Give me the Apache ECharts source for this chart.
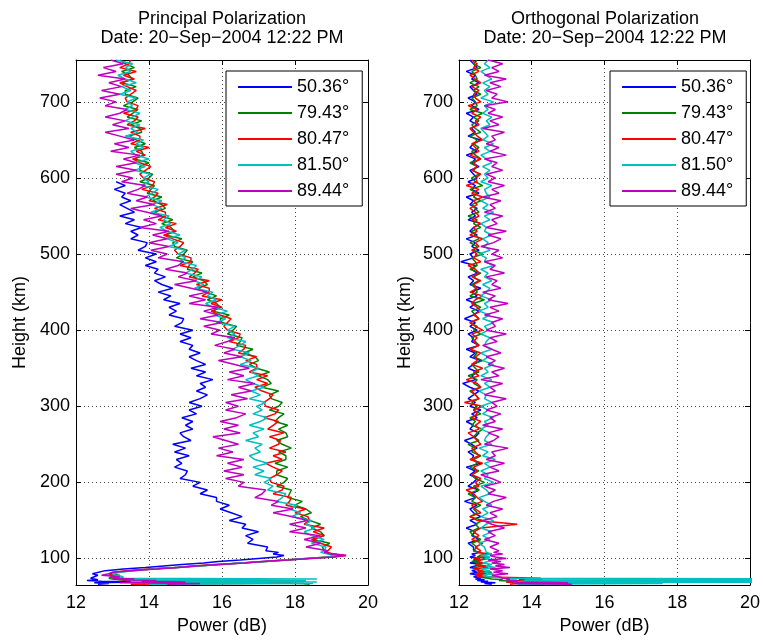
<!DOCTYPE html>
<html><head><meta charset="utf-8">
<script src="https://cdn.jsdelivr.net/npm/echarts@6/dist/echarts.min.js"></script>
<style>html,body{margin:0;padding:0;background:#fff}#c{width:763px;height:640px}</style>
</head><body><div id="c"></div>
<script>
// Height samples (km)
const heights = [66,67,68,69,70,71,72,73,74,
76,78,80,82,84,86,88,90,92,94,96,98,100,102,104,106,108,110,
115,120,125,130,135,140,145,150,155,160,165,170,175,180,185,190,195,200,205,210,
215,220,225,230,235,240,245,250,255,260,265,270,275,280,285,290,295,300,305,310,
315,320,325,330,335,340,345,350,355,360,365,370,375,380,385,390,395,400,405,410,
415,420,425,430,435,440,445,450,455,460,465,470,475,480,485,490,495,500,505,510,
515,520,525,530,535,540,545,550,555,560,565,570,575,580,585,590,595,600,605,610,
615,620,625,630,635,640,645,650,655,660,665,670,675,680,685,690,695,700,705,710,
715,720,725,730,735,740,745,750,755];

const seriesNames = ['50.36\u00b0','79.43\u00b0','80.47\u00b0','81.50\u00b0','89.44\u00b0'];
const xTicks = [12,14,16,18,20];
const yTicks = [100,200,300,400,500,600,700];

// Principal polarization (dB)
const principal5036 = [12.6,12.9,12.5,13.8,12.7,12.3,12.6,12.5,12.4,
12.4,12.6,12.45,12.5,12.8,13.3,13.9,14.4,14.9,15.5,15.9,16.5,17.0,17.5,17.7,17.4,17.55,17.2,
17.25,16.7,16.85,16.65,17.0,16.55,16.65,16.2,16.55,16.25,
15.95,16.2,15.85,15.85,15.4,15.6,15.2,15.4,14.85,15.0,
15.05,14.7,14.9,14.75,15.1,14.7,15.0,14.65,15.15,14.95,
14.85,15.2,15.0,15.2,14.9,15.3,15.1,15.45,15.1,15.4,
15.6,15.3,15.55,15.4,15.75,15.3,15.55,15.15,15.55,15.3,
15.1,15.4,15.1,15.2,14.85,15.15,14.85,15.2,14.7,14.9,
14.95,14.55,14.75,14.55,14.85,14.4,14.6,14.25,14.65,14.35,
14.15,14.45,14.15,14.25,13.9,14.2,13.9,14.2,13.7,13.9,
13.95,13.5,13.7,13.5,13.8,13.35,13.6,13.2,13.6,13.4,
13.2,13.5,13.25,13.35,13.05,13.35,13.1,
null,null,null,null,null,null,null,null,null,null,null,null,null,null,null,null,
null,null,null,null,null,null,null,null,null,null,null,null,null,null,null,null];

const principal7943 = [18.4,18.2,17.0,14.5,13.6,13.4,13.2,13.0,12.9,
13.0,13.2,12.9,13.1,13.5,14.1,14.8,15.3,16.0,16.5,17.2,17.8,18.4,19.0,19.3,19.0,18.9,18.8,
18.75,18.95,18.5,18.8,18.7,18.45,18.7,18.4,18.15,18.45,
18.3,18.0,18.2,17.8,17.85,17.9,17.5,17.7,17.8,17.5,
17.5,17.8,17.45,17.75,17.75,17.55,17.9,17.65,17.5,17.8,
17.75,17.55,17.8,17.45,17.55,17.7,17.3,17.55,17.65,17.35,
17.3,17.55,17.1,17.35,17.25,17.0,17.3,16.95,16.75,17.0,
16.9,16.6,16.85,16.4,16.5,16.55,16.15,16.3,16.4,16.0,
15.95,16.2,15.75,15.95,15.85,15.6,15.85,15.55,15.35,15.6,
15.5,15.2,15.45,15.05,15.1,15.2,14.75,14.95,15.05,14.7,
14.65,14.9,14.45,14.7,14.6,14.35,14.65,14.35,14.15,14.45,
14.35,14.1,14.35,13.95,14.05,14.15,13.75,14.0,14.1,13.75,
13.75,14.0,13.6,13.85,13.8,13.6,13.9,13.65,13.45,13.8,
13.75,13.5,13.8,13.4,13.55,13.7,13.3,13.55,13.7,13.35,
13.35,13.65,13.25,13.55,13.45,13.25,13.6,13.35,13.2];

const principal8047 = [13.5,16.5,17.9,17.8,16.0,13.6,13.3,13.1,13.0,
13.1,12.9,13.1,13.0,13.4,14.0,14.7,15.2,15.8,16.6,17.1,17.7,18.3,18.9,19.4,19.1,18.8,18.9,
19.0,18.7,18.45,18.8,18.5,18.8,18.25,18.4,18.35,18.0,
18.3,17.75,17.85,17.9,17.4,17.65,17.7,17.35,17.3,17.5,
17.65,17.4,17.2,17.65,17.4,17.75,17.3,17.55,17.6,17.3,
17.7,17.25,17.4,17.55,17.15,17.45,17.55,17.2,17.15,17.3,
17.4,17.1,16.9,17.25,16.95,17.25,16.75,16.95,16.95,16.65,
16.95,16.45,16.6,16.65,16.2,16.45,16.5,16.15,16.05,16.15,
16.25,15.95,15.7,16.0,15.7,16.0,15.45,15.65,15.65,15.3,
15.65,15.1,15.25,15.35,14.85,15.15,15.15,14.8,14.7,14.85,
14.95,14.65,14.4,14.75,14.45,14.75,14.25,14.45,14.45,14.15,
14.5,14.0,14.15,14.25,13.8,14.1,14.15,13.85,13.75,13.9,
14.05,13.75,13.55,13.9,13.65,14.0,13.5,13.75,13.75,13.5,
13.9,13.4,13.6,13.7,13.3,13.65,13.7,13.4,13.35,13.5,
13.65,13.4,13.2,13.6,13.3,13.65,13.2,13.45,13.5];

const principal8150 = [14.0,18.5,13.6,18.6,13.5,18.3,13.4,18.6,13.2,
13.3,13.1,13.0,13.2,13.6,14.1,14.7,15.4,15.9,16.5,17.2,17.7,18.3,18.9,19.1,18.9,18.7,18.8,
18.85,18.45,18.8,18.45,18.25,18.55,18.3,18.45,17.9,18.15,
17.85,18.05,17.5,17.65,17.75,17.25,17.4,17.15,17.35,16.9,
17.15,16.85,17.25,16.9,16.75,17.05,16.9,17.1,16.65,17.0,
16.85,17.15,16.75,17.05,17.25,16.85,17.1,16.95,17.2,16.75,
17.05,16.8,17.15,16.85,16.65,17.0,16.8,17.0,16.5,16.8,
16.5,16.75,16.3,16.5,16.65,16.15,16.35,16.15,16.35,15.85,
16.1,15.8,16.15,15.75,15.55,15.85,15.6,15.75,15.25,15.5,
15.25,15.45,15.0,15.2,15.3,14.85,15.0,14.8,15.0,14.55,
14.8,14.5,14.85,14.5,14.3,14.6,14.4,14.55,14.05,14.35,
14.1,14.35,13.9,14.1,14.25,13.8,14.0,13.85,14.05,13.6,
13.9,13.6,14.0,13.65,13.5,13.85,13.65,13.85,13.35,13.7,
13.5,13.75,13.35,13.55,13.75,13.35,13.55,13.4,13.65,13.2,
13.5,13.25,13.65,13.35,13.15,13.5,13.35,13.55,13.1];

const principal8944 = [14.5,15.4,13.2,15.0,13.8,14.2,13.3,13.6,13.0,
13.2,12.7,12.9,13.0,13.5,14.2,14.8,15.3,15.9,16.6,17.1,17.8,18.4,19.1,19.4,19.0,18.8,18.9,
18.3,18.7,18.25,18.7,17.85,18.3,17.85,18.35,17.9,17.4,
17.95,17.35,17.55,16.9,17.1,17.2,16.45,16.6,16.1,16.6,
16.05,16.55,16.15,16.6,15.85,16.3,15.9,16.45,16.1,15.75,
16.5,16.05,16.45,15.95,16.4,16.65,16.1,16.45,16.1,16.7,
16.25,16.8,16.45,16.9,16.15,16.6,16.2,16.75,16.35,15.9,
16.55,16.05,16.35,15.8,16.15,16.35,15.7,15.95,15.5,16.0,
15.4,15.9,15.5,15.9,15.1,15.55,15.1,15.6,15.15,14.7,
15.3,14.8,15.05,14.45,14.8,14.95,14.25,14.5,14.05,14.55,
14.0,14.5,14.1,14.55,13.75,14.2,13.85,14.35,13.95,13.5,
14.15,13.65,13.95,13.4,13.7,13.9,13.25,13.55,13.1,13.65,
13.1,13.65,13.3,13.75,12.95,13.45,13.05,13.6,13.2,12.8,
13.45,13.0,13.35,12.8,13.2,13.4,12.8,13.1,12.65,13.2,
12.7,13.25,12.9,13.35,12.6,13.1,12.75,13.3,12.95];

// Orthogonal polarization (dB)
const orthogonal5036 = [12.9,12.7,13.0,12.6,12.8,12.5,12.7,12.45,12.6,
12.4,12.6,12.3,12.5,12.35,12.55,12.3,12.45,12.6,12.3,12.5,12.4,12.55,12.3,12.45,12.35,12.6,12.4,
12.4,12.25,12.55,12.35,12.45,12.2,12.5,12.3,12.6,12.4,
12.3,12.5,12.15,12.45,12.35,12.55,12.25,12.4,12.5,12.3,
12.45,12.2,12.6,12.35,12.4,12.25,12.5,12.35,12.15,12.45,
12.55,12.3,12.4,12.2,12.5,12.35,12.6,12.3,12.45,12.25,
12.4,12.55,12.3,12.1,12.45,12.35,12.5,12.25,12.4,12.6,
12.3,12.45,12.2,12.55,12.35,12.4,12.25,12.5,12.3,12.45,
12.15,12.4,12.55,12.3,12.45,12.2,12.5,12.35,12.6,12.3,
12.4,12.25,12.5,12.35,12.45,12.05,12.4,12.3,12.55,12.35,
12.45,12.2,12.5,12.3,12.4,12.6,12.25,12.45,12.35,12.5,
12.3,12.4,12.2,12.55,12.35,12.45,12.25,12.5,12.4,12.3,
12.55,12.35,12.45,12.2,12.5,12.3,12.4,12.6,12.25,12.45,
12.35,12.5,12.3,12.4,12.2,12.55,12.35,12.45,12.25,12.5,
12.4,12.3,12.55,12.35,12.45,12.2,12.5,12.4,12.3];

const orthogonal7943 = [14.3,13.6,14.2,13.3,13.5,13.1,13.2,12.9,12.8,
12.5,12.7,12.45,12.9,12.55,12.6,12.4,12.75,12.5,12.65,12.35,12.6,12.8,12.5,12.45,12.7,12.55,12.4,
12.5,12.35,12.6,12.4,12.3,12.55,12.45,12.65,12.3,12.5,
12.4,12.6,12.35,12.45,12.25,12.55,12.4,12.7,12.45,12.35,
12.55,12.3,12.5,12.4,12.6,12.35,12.45,12.25,12.55,12.4,
12.5,12.65,12.35,12.45,12.3,12.6,12.4,12.5,12.35,12.55,
12.45,12.3,12.6,12.4,12.5,12.25,12.55,12.45,12.35,12.65,
12.4,12.5,12.3,12.55,12.45,12.35,12.6,12.4,12.5,12.3,
12.55,12.45,12.35,12.6,12.4,12.7,12.3,12.5,12.45,12.35,
12.55,12.4,12.6,12.3,12.5,12.45,12.35,12.65,12.4,12.5,
12.3,12.55,12.45,12.35,12.6,12.4,12.5,12.25,12.55,12.45,
12.35,12.6,12.4,12.5,12.3,12.65,12.45,12.35,12.55,12.4,
12.5,12.3,12.6,12.45,12.35,12.55,12.4,12.5,12.3,12.6,
12.45,12.35,12.55,12.4,12.65,12.3,12.5,12.45,12.35,12.6,
12.4,12.55,12.3,12.5,12.45,12.35,12.6,12.4,12.5];

const orthogonal8047 = [13.4,13.6,13.5,13.3,13.6,13.4,14.3,13.65,14.25,
12.6,12.45,12.75,12.5,12.65,12.4,12.8,12.55,12.45,12.7,12.5,12.6,12.4,12.75,12.55,12.9,12.5,12.6,
12.45,12.65,12.35,12.55,12.4,12.6,13.6,12.5,12.3,12.6,
12.45,12.35,12.65,12.5,12.4,12.2,12.55,12.45,12.6,12.35,
12.5,12.4,12.65,12.3,12.55,12.45,12.35,12.6,12.5,12.4,
12.25,12.55,12.45,12.6,12.35,12.5,12.4,12.65,12.15,12.55,
12.45,12.35,12.6,12.5,12.2,12.55,12.4,12.65,12.35,12.5,
12.45,12.6,12.3,12.55,12.4,12.5,12.35,12.65,12.45,12.3,
12.55,12.4,12.6,12.5,12.35,12.45,12.65,12.3,12.5,12.4,
12.6,12.35,12.55,12.45,12.25,12.6,12.4,12.5,12.35,12.55,
12.45,12.65,12.3,12.5,12.4,12.6,12.35,12.55,12.45,12.3,
12.5,12.4,12.65,12.35,12.55,12.2,12.5,12.45,12.6,12.35,
12.5,12.4,12.6,12.3,12.55,12.45,12.35,12.65,12.5,12.4,
12.3,12.55,12.45,12.6,12.35,12.5,12.25,12.6,12.45,12.4,
12.55,12.35,12.6,12.45,12.3,12.55,12.4,12.5,12.35];

const orthogonal8150 = [13.6,17.6,13.5,22,13.7,22,13.8,22,13.3,
12.8,12.65,12.95,12.7,12.85,12.6,13.0,12.75,12.9,12.65,12.8,13.05,12.7,12.85,12.6,12.9,12.75,12.8,
12.7,12.55,12.85,12.65,12.9,12.6,12.75,12.95,12.6,12.8,
12.65,12.9,12.7,12.55,12.85,12.75,12.6,12.95,12.7,12.8,
12.6,12.85,12.7,13.0,12.65,12.8,12.55,12.9,12.7,12.75,
12.85,12.6,12.8,12.7,12.95,12.65,12.8,12.6,12.9,12.7,
12.75,12.55,12.85,12.7,12.9,12.6,12.8,12.7,12.95,12.65,
12.8,12.6,12.9,12.7,12.75,12.85,12.6,12.8,12.7,12.95,
12.65,12.85,12.55,12.8,12.7,12.9,12.6,12.75,12.85,12.65,
12.9,12.7,12.8,12.6,12.95,12.7,12.75,12.55,12.85,12.7,
12.8,12.65,12.9,12.7,12.75,12.6,12.85,12.7,12.95,12.65,
12.8,12.6,12.85,12.75,12.7,12.9,12.6,12.8,12.7,12.85,
12.65,12.9,12.75,12.6,12.85,12.7,12.95,12.65,12.8,12.7,
12.6,12.85,12.75,12.9,12.65,12.8,12.7,12.95,12.6,12.8,
12.7,12.85,12.65,12.9,12.75,12.6,12.85,12.7,12.8];

const orthogonal8944 = [15.1,13.5,15.0,13.6,13.4,13.6,13.3,13.4,13.2,
13.1,12.9,13.35,12.95,13.2,12.85,13.4,13.0,13.25,12.9,13.15,12.8,13.3,13.0,12.85,13.2,12.95,13.1,
12.85,13.1,12.7,13.0,12.8,13.25,12.9,12.65,13.05,12.85,
13.2,12.75,12.95,13.3,12.8,13.0,12.7,13.15,12.9,12.6,
13.1,12.85,13.25,12.75,13.0,12.9,13.35,12.7,12.95,13.1,
12.8,13.2,12.65,13.0,12.85,13.15,12.75,13.05,12.9,13.3,
12.7,13.0,12.85,13.2,12.6,13.1,12.9,13.25,12.8,13.0,
12.75,13.15,12.9,12.65,13.05,12.85,13.3,12.75,13.0,12.9,
13.2,12.7,13.1,12.85,13.35,12.8,13.0,12.65,13.15,12.9,
13.05,12.75,13.25,12.85,13.0,12.7,13.2,12.9,13.1,12.6,
12.95,13.15,12.8,13.3,12.75,13.05,12.9,13.2,12.7,13.0,
12.85,13.15,12.65,13.1,12.9,13.25,12.8,13.0,12.75,13.2,
12.9,13.05,12.7,13.3,12.85,13.1,12.75,13.0,12.9,13.25,
12.65,13.1,12.85,13.2,12.8,13.0,12.7,13.35,12.9,13.05,
12.75,13.15,12.85,13.3,12.7,13.1,12.9,13.2,12.8];

const principal = [principal5036, principal7943, principal8047, principal8150, principal8944];
const orthogonal = [orthogonal5036, orthogonal7943, orthogonal8047, orthogonal8150, orthogonal8944];
const colors = ['#0000ff','#008000','#ff0000','#00bfbf','#bf00bf'];

const FONT = '"Liberation Sans", Arial, Helvetica, sans-serif';

function pairs(vals){
  const out = [];
  for (let i = 0; i < heights.length; i++) {
    if (vals[i] !== null && vals[i] !== undefined) out.push([vals[i], heights[i]]);
  }
  return out;
}

const gridLine = {show:true, lineStyle:{color:'#000', width:1, type:[1,3], opacity:0.7}};
const tickStyle = {show:true, inside:true, length:5, lineStyle:{color:'#000', width:1}};
const labelStyle = {color:'#000', fontSize:18, fontFamily:FONT};
const nameStyle = {color:'#000', fontSize:18, fontFamily:FONT};

function xAxes(gi){
  return [
    {type:'value', gridIndex:gi, position:'bottom', min:12, max:20, interval:2,
     axisLine:{show:true, onZero:false, lineStyle:{color:'#000', width:1}},
     axisTick:tickStyle, axisLabel:Object.assign({margin:9}, labelStyle),
     splitLine:gridLine, name:'Power (dB)', nameLocation:'middle', nameGap:29, nameTextStyle:nameStyle},
    {type:'value', gridIndex:gi, position:'top', min:12, max:20, interval:2,
     axisLine:{show:true, onZero:false, lineStyle:{color:'#000', width:1}},
     axisTick:tickStyle, axisLabel:{show:false}, splitLine:{show:false}}
  ];
}
function yAxes(gi, gap){
  return [
    {type:'value', gridIndex:gi, position:'left', min:65, max:755,
     axisLine:{show:true, onZero:false, lineStyle:{color:'#000', width:1}},
     axisTick:Object.assign({customValues:yTicks}, tickStyle),
     axisLabel:Object.assign({margin:6, customValues:yTicks}, labelStyle),
     splitLine:gridLine, name:'Height (km)', nameLocation:'middle', nameGap:gap, nameRotate:90, nameTextStyle:nameStyle},
    {type:'value', gridIndex:gi, position:'right', min:65, max:755,
     axisLine:{show:true, onZero:false, lineStyle:{color:'#000', width:1}},
     axisTick:Object.assign({customValues:yTicks}, tickStyle),
     axisLabel:{show:false, customValues:yTicks}, splitLine:{show:false}}
  ];
}

const series = [];
principal.forEach((arr, k) => series.push({
  type:'line', name:seriesNames[k], xAxisIndex:0, yAxisIndex:0, data:pairs(arr),
  showSymbol:false, symbol:'none', lineStyle:{color:colors[k], width:1.5}, itemStyle:{color:colors[k]},
  silent:true, animation:false
}));
orthogonal.forEach((arr, k) => series.push({
  type:'line', name:seriesNames[k], xAxisIndex:2, yAxisIndex:2, data:pairs(arr),
  showSymbol:false, symbol:'none', lineStyle:{color:colors[k], width:1.5}, itemStyle:{color:colors[k]},
  silent:true, animation:false
}));

function legend(left){
  return {orient:'vertical', left:left, top:71, padding:[7,13,6,12], icon:'rect', itemWidth:54, itemHeight:2, itemGap:8,
    textStyle:{color:'#000', fontSize:18, fontFamily:FONT, lineHeight:18},
    borderColor:'#000', borderWidth:1, backgroundColor:'#fff', selectedMode:false, data:seriesNames};
}

const option = {
  animation:false,
  backgroundColor:'#fff',
  grid:[
    {left:76, top:60, width:292, height:528, containLabel:false},
    {left:459, top:60, width:293, height:528, containLabel:false}
  ],
  xAxis: xAxes(0).concat(xAxes(1)),
  yAxis: yAxes(0, 47).concat(yAxes(1, 45)),
  legend:[legend(226), legend(610)],
  graphic:[
    {type:'text', x:222, y:10, style:{text:'Principal Polarization\nDate: 20\u2212Sep\u22122004 12:22 PM',
      fill:'#000', fontSize:18, fontFamily:FONT, textAlign:'center', verticalAlign:'top', lineHeight:19}},
    {type:'text', x:605, y:10, style:{text:'Orthogonal Polarization\nDate: 20\u2212Sep\u22122004 12:22 PM',
      fill:'#000', fontSize:18, fontFamily:FONT, textAlign:'center', verticalAlign:'top', lineHeight:19}}
  ],
  series:series
};

const chart = echarts.init(document.getElementById('c'), null, {renderer:'canvas'});
chart.setOption(option);
</script>
</body></html>
